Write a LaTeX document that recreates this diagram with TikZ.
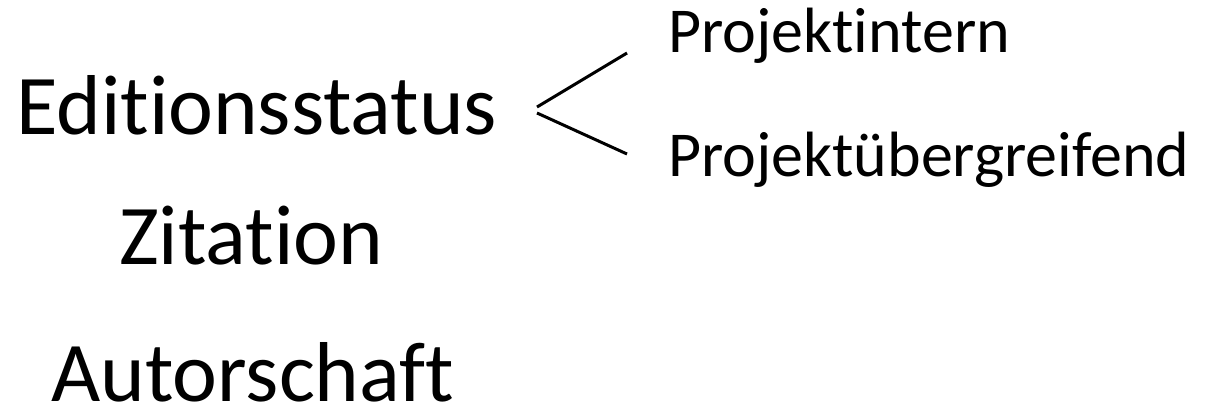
\documentclass[tikz,border=0pt]{standalone}
\usepackage{fontspec}
\setmainfont{Carlito}[Ligatures={NoCommon}]
\begin{document}
\begin{tikzpicture}[x=1pt,y=-1pt,
  big/.style={inner sep=0pt,anchor=base west,font=\fontsize{85}{100}\selectfont},
  small/.style={inner sep=0pt,anchor=base west,font=\fontsize{64}{76}\selectfont},
  branch/.style={line width=3pt,line cap=butt}]
\useasboundingbox (0,0) rectangle (1210,406);
\node[big] (ed) at (16,135) {Editionsstatus};
\node[big] (zi) at (119,264) {Zitation};
\node[big] (au) at (51,401) {Autorschaft};
\node[small] (pi) at (668,53) {Projektintern};
\node[small] (pu) at (668,177) {Projektübergreifend};
\coordinate (t1) at (537,107);
\coordinate (t2) at (537,113);
\coordinate (e1) at (627,53);
\coordinate (e2) at (627,154);
\draw[branch] (t1) -- (e1);
\draw[branch] (t2) -- (e2);
\end{tikzpicture}
\end{document}
